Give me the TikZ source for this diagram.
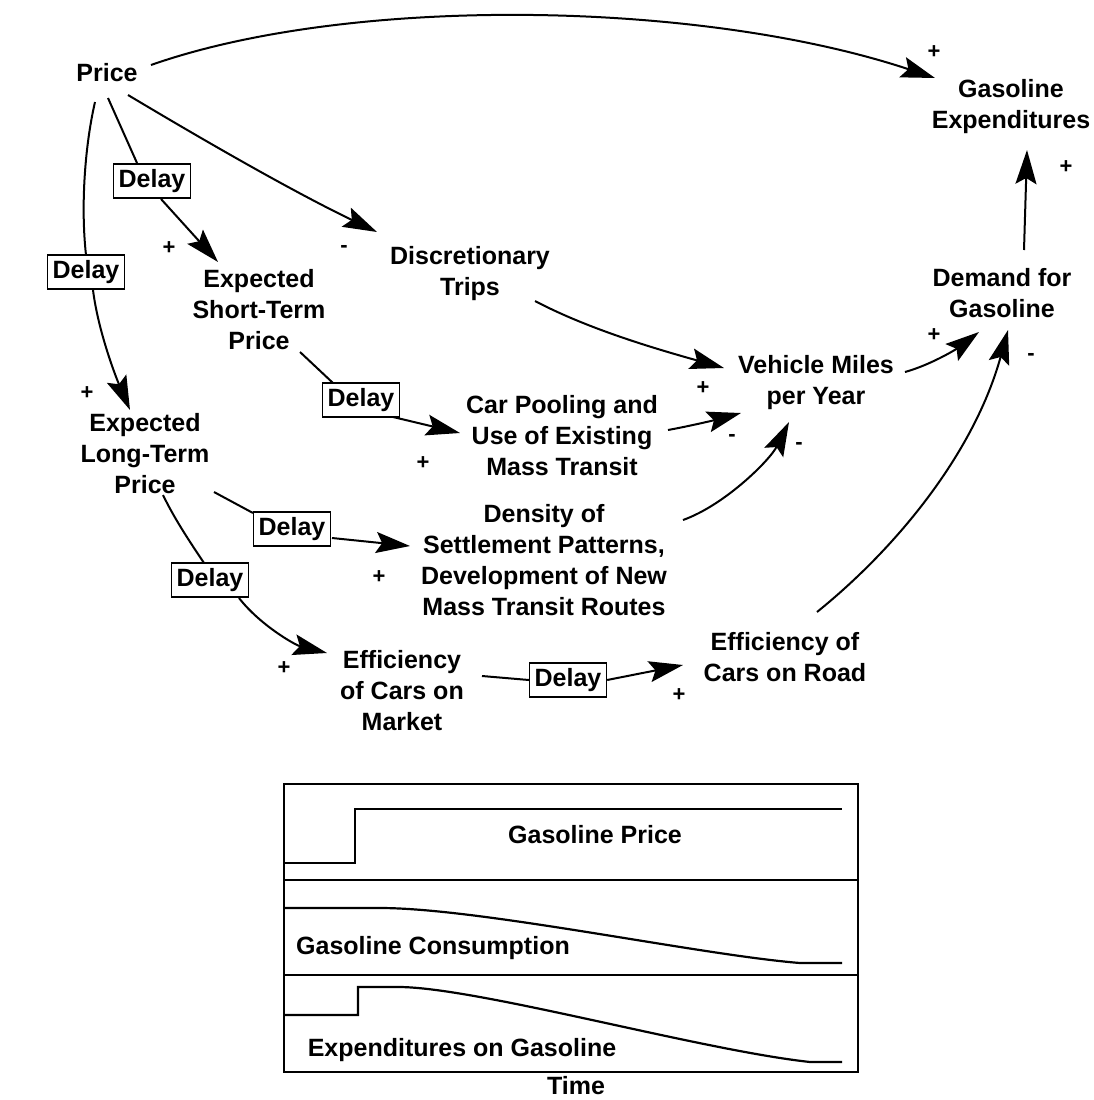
\documentclass[tikz,border=0pt]{standalone}
\usepackage{fontspec}
\setmainfont{Liberation Sans}
\usetikzlibrary{arrows.meta,calc}
\begin{document}
\begin{tikzpicture}[x=1pt,y=-1pt,
  var/.style={font=\bfseries\fontsize{25}{31}\selectfont, align=center, inner sep=0pt},
  delaybox/.style={draw, line width=1.6pt, font=\bfseries\fontsize{25}{30}\selectfont,
    inner xsep=5pt, inner ysep=0pt, minimum height=34pt},
  pol/.style={font=\bfseries\fontsize{22}{24}\selectfont, inner sep=0pt},
  link/.style={line width=2pt, -{Stealth[length=34pt,width=21pt,inset=6pt]}},
  plainline/.style={line width=2pt},
  chartline/.style={line width=2.2pt},
  frameline/.style={line width=1.8pt},
]
\useasboundingbox (0,0) rectangle (1094,1100);

% variables
\node[var] (price)   at (107,73)  {Price};
\node[var] (gasexp)  at (1011,107) {Gasoline\\Expenditures};
\node[var] (demand)  at (1002,293) {Demand for\\Gasoline};
\node[var] (dtrips)  at (470,274)  {Discretionary\\Trips};
\node[var] (estp)    at (259,310)  {Expected\\Short-Term\\Price};
\node[var] (vmiles)  at (816,383)  {Vehicle Miles\\per Year};
\node[var] (carpool) at (562,436)  {Car Pooling and\\Use of Existing\\Mass Transit};
\node[var] (eltp)    at (145,454)  {Expected\\Long-Term\\Price};
\node[var] (density) at (544,560)  {Density of\\Settlement Patterns,\\Development of New\\Mass Transit Routes};
\node[var] (effroad) at (785,657)  {Efficiency of\\Cars on Road};
\node[var] (effmkt)  at (402,691)  {Efficiency\\of Cars on\\Market};

% delays
\node[delaybox] (d1) at (152,181) {Delay};
\node[delaybox] (d2) at (86,272)  {Delay};
\node[delaybox] (d3) at (361,400) {Delay};
\node[delaybox] (d4) at (292,529) {Delay};
\node[delaybox] (d5) at (210,580) {Delay};
\node[delaybox] (d6) at (568,680) {Delay};

% connectors
\draw[link] ($(price)+(44,-8)$) .. controls (350,-5) and (700,0) .. ($(gasexp)+(-76,-29)$);
\draw[plainline] ($(price)+(1,25)$) -- ($(d1)+(-15,-18)$);
\draw[link] ($(d1)+(9,18)$) -- ($(estp)+(-41,-48)$);
\draw[link] ($(price)+(21,22)$) .. controls (220,150) and (300,195) .. ($(dtrips)+(-93,-42)$);
\draw[plainline] ($(price)+(-12,29)$) .. controls (84,150) and (81,210) .. ($(d2)+(0,-17)$);
\draw[link] ($(d2)+(7,18)$) .. controls (98,330) and (115,375) .. ($(eltp)+(-15,-44)$);
\draw[link] ($(dtrips)+(65,27)$) .. controls (590,330) and (660,350) .. ($(vmiles)+(-92,-15)$);
\draw[plainline] ($(estp)+(41,42)$) -- ($(d3)+(-28,-17)$);
\draw[link] ($(d3)+(32,17)$) -- ($(carpool)+(-102,-3)$);
\draw[link] ($(carpool)+(106,-6)$) .. controls (690,426) and (715,420) .. ($(vmiles)+(-75,30)$);
\draw[link] ($(density)+(139,-40)$) .. controls (725,505) and (770,460) .. ($(vmiles)+(-27,39)$);
\draw[plainline] ($(eltp)+(69,38)$) -- ($(d4)+(-39,-16)$);
\draw[link] ($(d4)+(40,9)$) -- ($(density)+(-134,-14)$);
\draw[plainline] ($(eltp)+(18,41)$) .. controls (175,520) and (192,545) .. ($(d5)+(-6,-17)$);
\draw[link] ($(d5)+(29,18)$) .. controls (260,625) and (295,645) .. ($(effmkt)+(-75,-38)$);
\draw[plainline] ($(effmkt)+(80,-15)$) -- (d6.west);
\draw[link] (d6.east) -- ($(effroad)+(-102,8)$);
\draw[link] ($(effroad)+(32,-45)$) .. controls (900,545) and (975,450) .. ($(demand)+(6,37)$);
\draw[link] ($(vmiles)+(89,-11)$) .. controls (930,365) and (955,350) .. ($(demand)+(-23,39)$);
\draw[link] ($(demand)+(22,-43)$) -- ($(gasexp)+(16,43)$);

% polarities
\node[pol] (p1)  at (934,52)  {+};
\node[pol] (p2)  at (169,248) {+};
\node[pol] (p3)  at (344,249) {-};
\node[pol] (p4)  at (87,393)  {+};
\node[pol] (p5)  at (703,388) {+};
\node[pol] (p6)  at (423,463) {+};
\node[pol] (p7)  at (732,438) {-};
\node[pol] (p8)  at (799,446) {-};
\node[pol] (p9)  at (379,577) {+};
\node[pol] (p10) at (284,668) {+};
\node[pol] (p11) at (679,695) {+};
\node[pol] (p12) at (1031,357) {-};
\node[pol] (p13) at (934,335) {+};
\node[pol] (p14) at (1066,167) {+};

% behaviour-over-time chart
\draw[frameline] (284,784) rectangle (858,1072);
\draw[frameline] (284,880) -- (858,880);
\draw[frameline] (284,975) -- (858,975);
\draw[chartline] (284,863) -- (355,863) -- (355,809) -- (842,809);
\draw[chartline] (284,908) -- (380,908) .. controls (480,908) and (700,955) .. (800,963) -- (842,963);
\draw[chartline] (284,1015) -- (358,1015) -- (358,987) -- (400,987) .. controls (480,988) and (700,1050) .. (810,1062) -- (842,1062);
\node[var] (gp)   at (595,835)  {Gasoline Price};
\node[var] (gc)   at (433,948)  {Gasoline Consumption};
\node[var] (ge)   at (462,1050) {Expenditures on Gasoline};
\node[var] (time) at (576,1086) {Time};
\end{tikzpicture}
\end{document}
